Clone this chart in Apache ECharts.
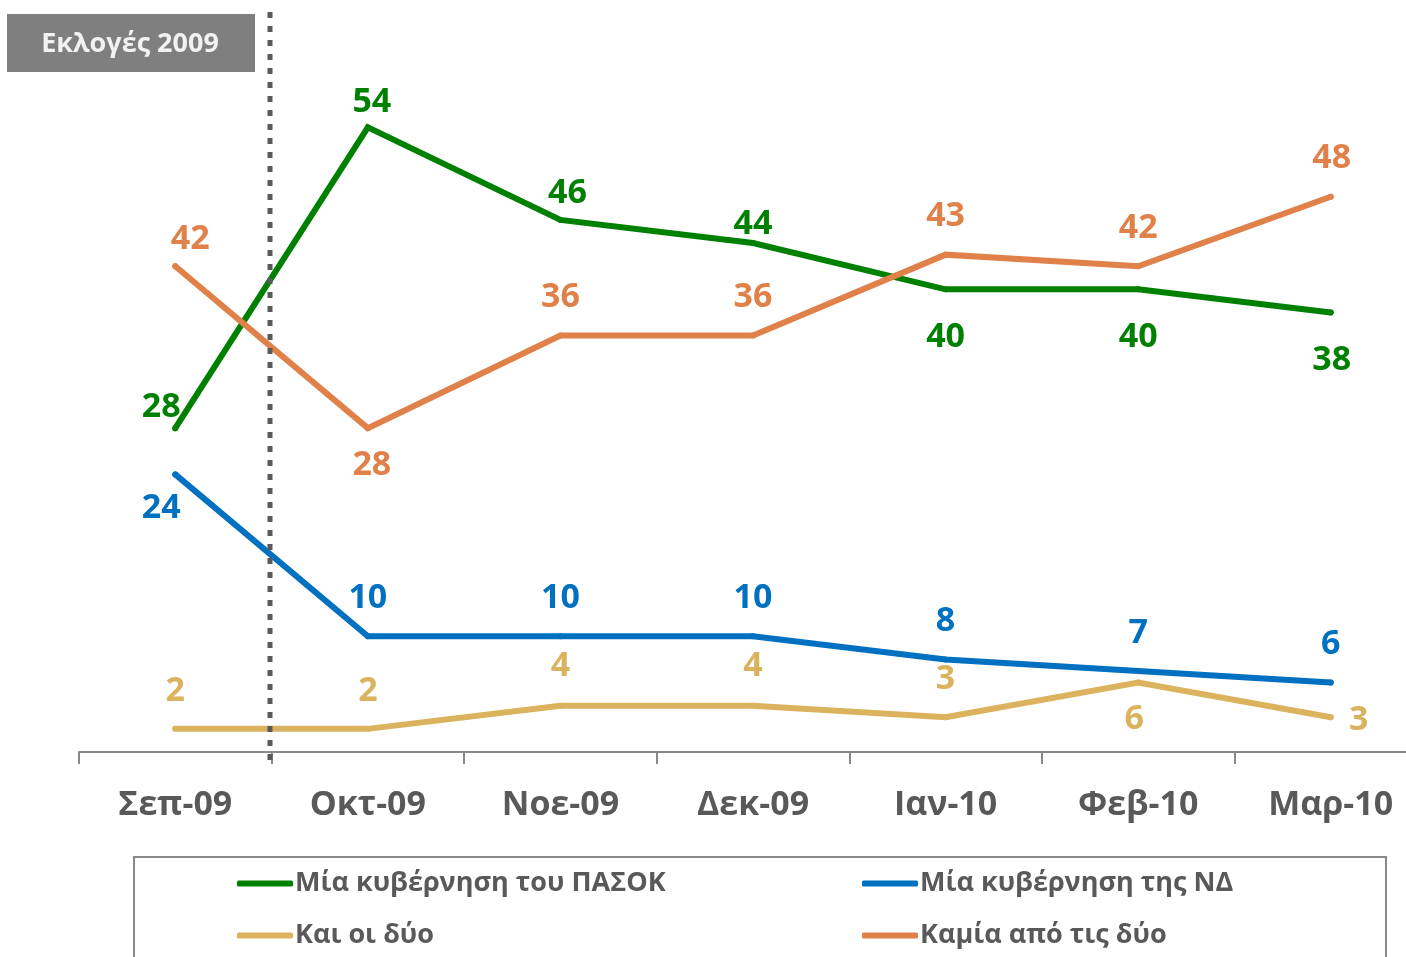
<!DOCTYPE html>
<html>
<head>
<meta charset="utf-8">
<script src="https://cdn.jsdelivr.net/npm/echarts@6/dist/echarts.min.js"></script>
<style>
  html, body { margin: 0; padding: 0; background: #fff; }
  #chart { width: 1406px; height: 957px; }
</style>
</head>
<body>
<div id="chart"></div>
<script>
// months on the x axis
const months = ['Σεπ-09', 'Οκτ-09', 'Νοε-09', 'Δεκ-09', 'Ιαν-10', 'Φεβ-10', 'Μαρ-10'];

// survey values (%)
const pasok = [28, 54, 46, 44, 40, 40, 38];
const nd = [24, 10, 10, 10, 8, 7, 6];
const both = [2, 2, 4, 4, 3, 6, 3];
const neither = [42, 28, 36, 36, 43, 42, 48];

const seriesNames = ['Μία κυβέρνηση του ΠΑΣΟΚ', 'Μία κυβέρνηση της ΝΔ', 'Και οι δύο', 'Καμία από τις δύο'];

// label placement: [dx, dy] of label centre relative to the point
const pasokLabelPos = [[-14, -21], [4, -25], [7, -27], [0, -19], [0, 48], [0, 48], [1, 48]];
const ndLabelPos = [[-14, 34], [0, -38], [0, -38], [0, -38], [0, -38], [0, -38], [0, -38]];
const bothLabelPos = [[0, -38], [0, -38], [0, -39], [0, -39], [0, -38], [-4, 37], [28, 3]];
const neitherLabelPos = [[15, -27], [4, 37], [0, -38], [0, -38], [0, -38], [0, -38], [1, -38]];

const FONT = '"Open Sans", "DejaVu Sans", sans-serif';

function buildData(values, pos) {
  return values.map((v, i) => ({
    value: v,
    label: { offset: pos[i] }
  }));
}

function lineSeries(name, values, pos, color) {
  return {
    name: name,
    type: 'line',
    symbol: 'circle',
    symbolSize: 6,
    showSymbol: true,
    data: buildData(values, pos),
    lineStyle: { color: color, width: 6, cap: 'round', join: 'miter' },
    itemStyle: { color: color, borderWidth: 0 },
    label: {
      show: true,
      position: 'inside',
      align: 'center',
      verticalAlign: 'middle',
      color: color,
      fontFamily: FONT,
      fontWeight: 'bold',
      fontSize: 34
    },
    emphasis: { disabled: true },
    z: 3
  };
}

function legendItem(name, left, top) {
  return {
    data: [name],
    left: left,
    top: top,
    padding: 0,
    icon: 'roundRect',
    itemWidth: 56,
    itemHeight: 6,
    itemGap: 0,
    selectedMode: false,
    textStyle: { color: '#595959', fontFamily: FONT, fontWeight: 'bold', fontSize: 27, padding: [0, 0, 0, -3] }
  };
}

const chart = echarts.init(document.getElementById('chart'));

const option = {
  backgroundColor: '#ffffff',
  animation: false,
  grid: {
    left: 79,
    right: -21,
    top: 58,
    bottom: 205,
    outerBoundsMode: 'none'
  },
  xAxis: {
    type: 'category',
    data: months,
    boundaryGap: true,
    axisLine: { lineStyle: { color: '#898989', width: 2 } },
    axisTick: { show: true, length: 12, lineStyle: { color: '#898989', width: 2 } },
    axisLabel: {
      color: '#595959',
      fontFamily: FONT,
      fontWeight: 'bold',
      fontSize: 34,
      margin: 36
    }
  },
  yAxis: {
    type: 'value',
    min: 0,
    max: 60,
    show: false
  },
  legend: [
    legendItem(seriesNames[0], 237, 870),
    legendItem(seriesNames[2], 237, 922),
    legendItem(seriesNames[1], 862, 870),
    legendItem(seriesNames[3], 862, 922)
  ],
  graphic: [
    {
      type: 'rect',
      shape: { x: 7, y: 14, width: 248, height: 58 },
      style: { fill: '#7f7f7f' },
      z: 10
    },
    {
      type: 'text',
      x: 130,
      y: 44,
      style: {
        text: 'Εκλογές 2009',
        fill: '#f2f2f2',
        font: 'bold 27px ' + FONT,
        textAlign: 'center',
        textVerticalAlign: 'middle'
      },
      z: 11
    },
    {
      type: 'line',
      shape: { x1: 270, y1: 12, x2: 270, y2: 762 },
      style: { stroke: '#595959', lineWidth: 5, lineDash: [6, 8] },
      z: 10
    },
    {
      type: 'rect',
      shape: { x: 134, y: 857, width: 1252, height: 120 },
      style: { fill: 'none', stroke: '#898989', lineWidth: 2 },
      z: 1
    }
  ],
  series: [
    lineSeries(seriesNames[0], pasok, pasokLabelPos, '#008000'),
    lineSeries(seriesNames[1], nd, ndLabelPos, '#0070c0'),
    lineSeries(seriesNames[2], both, bothLabelPos, '#dbb35e'),
    lineSeries(seriesNames[3], neither, neitherLabelPos, '#e0814a')
  ]
};

chart.setOption(option);
</script>
</body>
</html>
